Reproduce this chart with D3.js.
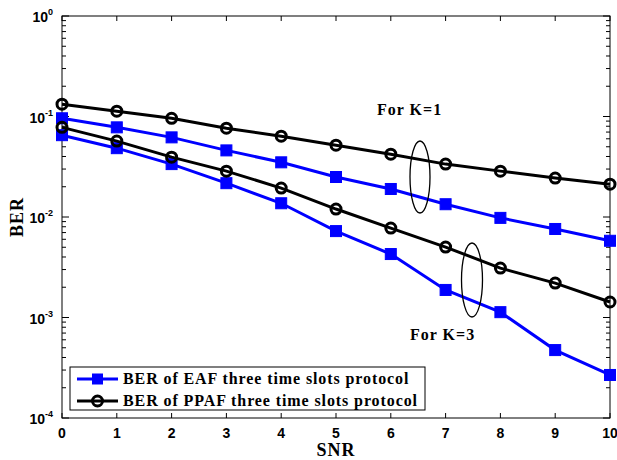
<!DOCTYPE html>
<html><head><meta charset="utf-8">
<script src="https://cdn.jsdelivr.net/npm/d3@7"></script>
<style>body{margin:0;background:#fff}svg{display:block}</style>
</head><body>
<script>
const snr = [0,1,2,3,4,5,6,7,8,9,10];
const eafK1 = [0.096,0.078,0.062,0.046,0.035,0.025,0.019,0.0134,0.0098,0.0076,0.0058];
const ppafK1 = [0.1325,0.113,0.096,0.0765,0.0637,0.0518,0.0422,0.0336,0.0286,0.0244,0.0212];
const eafK3 = [0.0652,0.0484,0.0336,0.0217,0.0137,0.00724,0.00428,0.00188,0.00113,0.000474,0.000268];
const ppafK3 = [0.078,0.0569,0.0394,0.0286,0.0194,0.012,0.00776,0.00502,0.0031,0.0022,0.001426];
const xTicks = [0,1,2,3,4,5,6,7,8,9,10];
const yDecades = [0,-1,-2,-3,-4];
const legendLabels = ["BER of EAF three time slots protocol","BER of PPAF three time slots protocol"];

const W=617,H=460;
const m={l:62,r:7,t:16,b:42};
const serif="Liberation Serif, Times New Roman, serif";
const sans="Liberation Sans, Arial, sans-serif";
const svg=d3.select("body").append("svg").attr("width",W).attr("height",H);
const x=d3.scaleLinear().domain([0,10]).range([m.l,W-m.r]);
const y=d3.scaleLog().domain([1e-4,1]).range([H-m.b,m.t]);
const g=svg.append("g");

// frame
g.append("rect").attr("x",x(0)).attr("y",y(1)).attr("width",x(10)-x(0)).attr("height",y(1e-4)-y(1))
 .attr("fill","none").attr("stroke","#000").attr("stroke-width",1);

// x ticks
const tl=5;
xTicks.forEach(t=>{
  g.append("line").attr("x1",x(t)).attr("x2",x(t)).attr("y1",y(1e-4)).attr("y2",y(1e-4)-tl).attr("stroke","#000");
  g.append("line").attr("x1",x(t)).attr("x2",x(t)).attr("y1",y(1)).attr("y2",y(1)+tl).attr("stroke","#000");
  g.append("text").attr("x",x(t)).attr("y",y(1e-4)+20).attr("text-anchor","middle")
   .attr("font-family",sans).attr("font-weight","bold").attr("font-size",14).text(t);
});
// y ticks (log minor)
const ticksY=[];
for(let d=-4;d<0;d++){for(let k=1;k<10;k++)ticksY.push({v:k*Math.pow(10,d),major:k===1});}
ticksY.push({v:1,major:true});
ticksY.forEach(t=>{
  const len=t.major?7:4;
  g.append("line").attr("x1",x(0)).attr("x2",x(0)+len).attr("y1",y(t.v)).attr("y2",y(t.v)).attr("stroke","#000");
  g.append("line").attr("x1",x(10)).attr("x2",x(10)-len).attr("y1",y(t.v)).attr("y2",y(t.v)).attr("stroke","#000");
});
yDecades.forEach(d=>{
  const t=g.append("text").attr("x",x(0)-9).attr("y",y(Math.pow(10,d))+6).attr("text-anchor","end")
   .attr("font-family",sans).attr("font-weight","bold").attr("font-size",14);
  t.append("tspan").text("10");
  t.append("tspan").attr("dy",-7).attr("font-size",9).text(d===0?"0":String(d));
});

// axis titles
svg.append("text").attr("x",(x(0)+x(10))/2).attr("y",H-4).attr("text-anchor","middle")
 .attr("font-family",serif).attr("font-weight","bold").attr("font-size",18).attr("letter-spacing",1).text("SNR");
svg.append("text").attr("transform",`translate(23,${(y(1)+y(1e-4))/2}) rotate(-90)`).attr("text-anchor","middle")
 .attr("font-family",serif).attr("font-weight","bold").attr("font-size",18).attr("letter-spacing",1).text("BER");

const line=d3.line().x((d,i)=>x(snr[i])).y(d=>y(d));
function drawSeries(vals,type){
  const col=type==="sq"?"#0000ff":"#000";
  g.append("path").attr("d",line(vals)).attr("fill","none").attr("stroke",col).attr("stroke-width",3);
  vals.forEach((v,i)=>{
    if(type==="sq"){
      g.append("rect").attr("x",x(snr[i])-5.5).attr("y",y(v)-5.5).attr("width",11).attr("height",11)
       .attr("fill","#0000ff").attr("stroke","#0000ff").attr("stroke-width",1);
    } else {
      g.append("circle").attr("cx",x(snr[i])).attr("cy",y(v)).attr("r",5)
       .attr("fill","none").attr("stroke","#000").attr("stroke-width",3);
    }
  });
}
drawSeries(eafK1,"sq");
drawSeries(eafK3,"sq");
drawSeries(ppafK1,"ci");
drawSeries(ppafK3,"ci");

// annotations
g.append("ellipse").attr("cx",420).attr("cy",177).attr("rx",10).attr("ry",36).attr("fill","none").attr("stroke","#000").attr("stroke-width",1.3);
g.append("ellipse").attr("cx",472).attr("cy",280).attr("rx",10.5).attr("ry",37).attr("fill","none").attr("stroke","#000").attr("stroke-width",1.3);
g.append("text").attr("x",377).attr("y",115).attr("font-family",serif).attr("font-weight","bold").attr("font-size",16).attr("letter-spacing",1).text("For K=1");
g.append("text").attr("x",410).attr("y",340).attr("font-family",serif).attr("font-weight","bold").attr("font-size",16).attr("letter-spacing",1).text("For K=3");

// legend
const lg=svg.append("g");
lg.append("rect").attr("x",70).attr("y",367).attr("width",355).attr("height",43).attr("fill","#fff").attr("stroke","#000").attr("stroke-width",1);
[[379,"sq"],[401,"ci"]].forEach((e,i)=>{
  const [ly,type]=e;
  const col=type==="sq"?"#0000ff":"#000";
  lg.append("line").attr("x1",77).attr("x2",118).attr("y1",ly).attr("y2",ly).attr("stroke",col).attr("stroke-width",3);
  if(type==="sq") lg.append("rect").attr("x",92).attr("y",ly-5.5).attr("width",11).attr("height",11).attr("fill","#0000ff");
  else lg.append("circle").attr("cx",97.5).attr("cy",ly).attr("r",5).attr("fill","none").attr("stroke","#000").attr("stroke-width",3);
  lg.append("text").attr("x",123).attr("y",ly+5).attr("font-family",serif).attr("font-weight","bold").attr("font-size",16)
   .attr("letter-spacing",0.9).text(legendLabels[i]);
});
</script>
</body></html>
